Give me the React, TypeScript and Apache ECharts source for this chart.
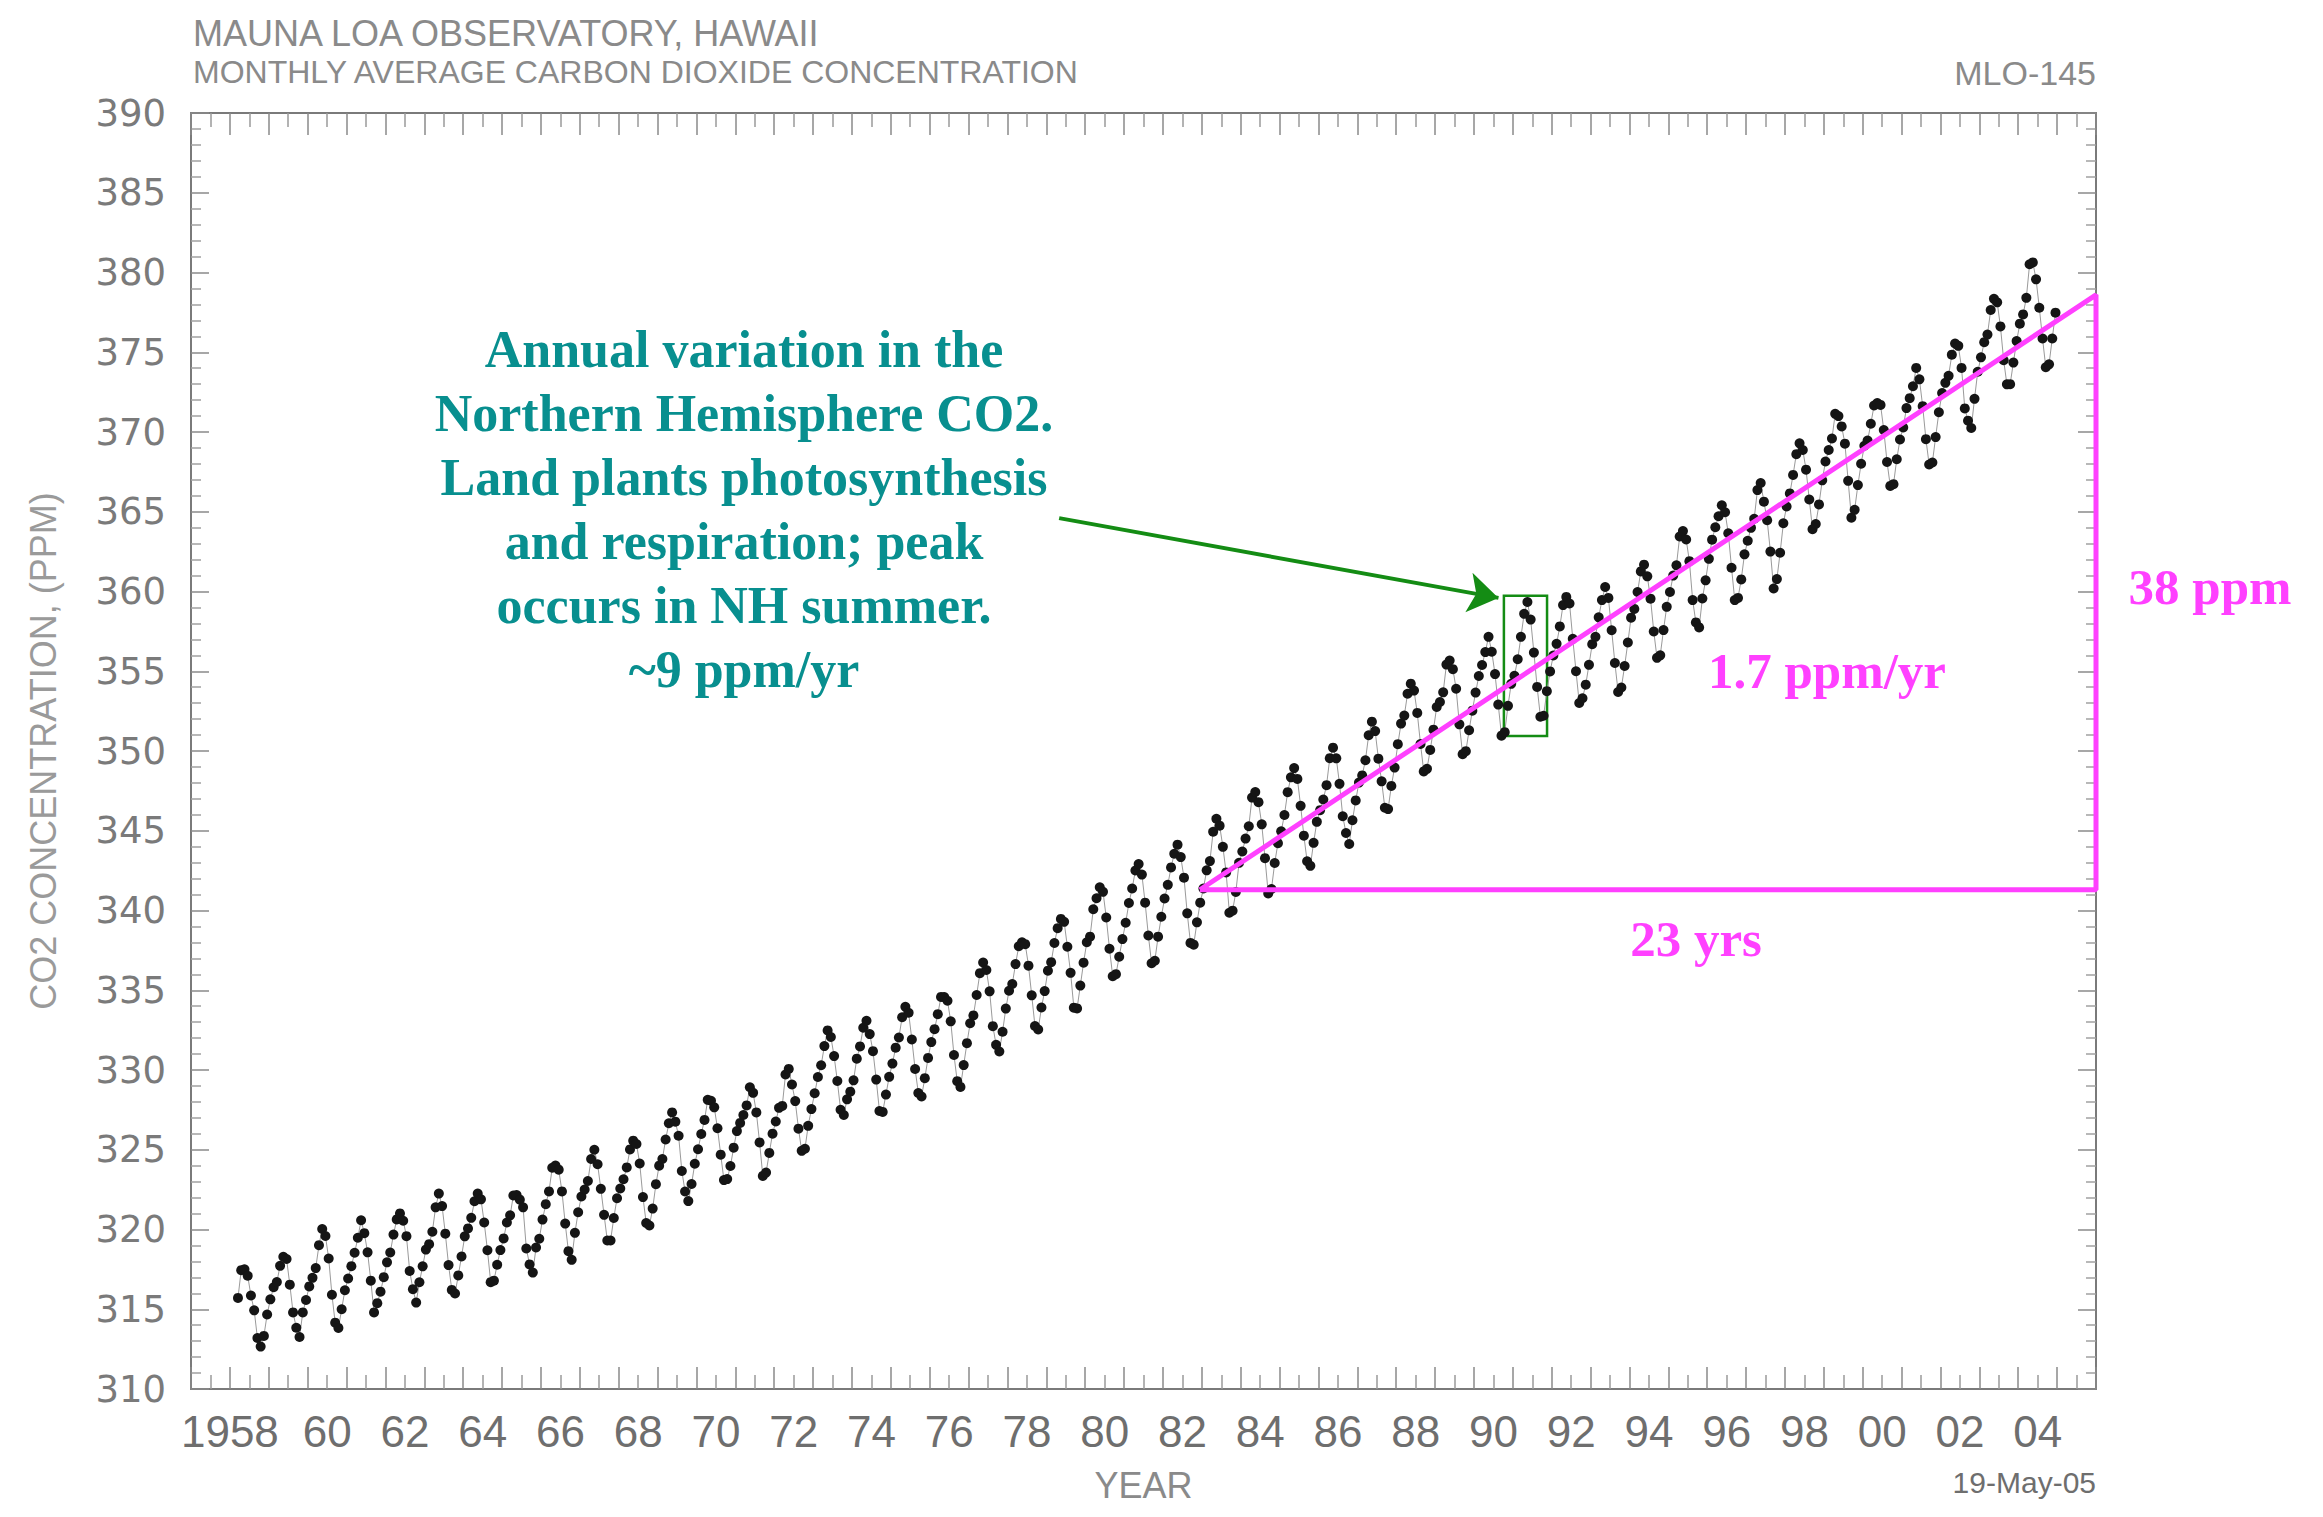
import React, { useEffect, useRef } from "react";
import * as echarts from "echarts";

// Monthly average CO2 (ppm) at Mauna Loa, starting March 1958
const startYear = 1958;
const startMonth = 3;

const co2_1950s = [
  315.71, 317.45, 317.5, 317.1, 315.86, 314.93, 313.2, 312.66, 313.33, 314.67,
  315.62, 316.38, 316.71, 317.72, 318.29, 318.15, 316.54, 314.8, 313.84, 313.26, 314.8, 315.58,
];
const co2_1960s = [
  316.43, 316.97, 317.58, 319.02, 320.03, 319.59, 318.18, 315.91, 314.16, 313.83, 315.0, 316.19,
  316.93, 317.7, 318.54, 319.48, 320.58, 319.77, 318.57, 316.79, 314.8, 315.38, 316.1, 317.01,
  317.94, 318.56, 319.68, 320.63, 321.01, 320.55, 319.58, 317.4, 316.26, 315.42, 316.69, 317.69,
  318.74, 319.08, 319.86, 321.39, 322.25, 321.47, 319.74, 317.77, 316.21, 315.99, 317.12, 318.31,
  319.57, 320.07, 320.73, 321.77, 322.25, 321.89, 320.44, 318.7, 316.7, 316.79, 317.79, 318.71,
  319.44, 320.44, 320.89, 322.13, 322.16, 321.87, 321.39, 318.81, 317.81, 317.3, 318.87, 319.42,
  320.62, 321.59, 322.39, 323.87, 324.01, 323.75, 322.39, 320.37, 318.64, 318.1, 319.79, 321.08,
  322.07, 322.5, 323.04, 324.42, 325.0, 324.09, 322.55, 320.92, 319.31, 319.31, 320.72, 321.96,
  322.57, 323.15, 323.89, 325.02, 325.57, 325.36, 324.14, 322.03, 320.41, 320.25, 321.31, 322.84,
  324.0, 324.42, 325.64, 326.66, 327.34, 326.76, 325.88, 323.67, 322.38, 321.78, 322.85, 324.12,
];
const co2_1970s = [
  325.03, 325.99, 326.87, 328.13, 328.07, 327.66, 326.35, 324.69, 323.1, 323.16, 323.98, 325.13,
  326.17, 326.68, 327.18, 327.78, 328.92, 328.57, 327.34, 325.46, 323.36, 323.57, 324.8, 326.01,
  326.77, 327.63, 327.75, 329.72, 330.07, 329.09, 328.05, 326.32, 324.93, 325.06, 326.5, 327.55,
  328.54, 329.56, 330.3, 331.5, 332.48, 332.07, 330.87, 329.31, 327.51, 327.18, 328.16, 328.64,
  329.35, 330.71, 331.48, 332.65, 333.09, 332.25, 331.18, 329.4, 327.43, 327.37, 328.46, 329.57,
  330.4, 331.4, 332.04, 333.31, 333.96, 333.59, 331.91, 330.06, 328.56, 328.34, 329.49, 330.76,
  331.75, 332.56, 333.5, 334.58, 334.57, 334.34, 333.05, 330.94, 329.3, 328.94, 330.31, 331.68,
  332.93, 333.42, 334.7, 336.07, 336.74, 336.27, 334.93, 332.75, 331.58, 331.16, 332.4, 333.85,
  334.97, 335.39, 336.64, 337.76, 338.01, 337.89, 336.54, 334.68, 332.76, 332.54, 333.92, 334.95,
  336.23, 336.76, 337.96, 338.89, 339.47, 339.29, 337.73, 336.09, 333.91, 333.86, 335.29, 336.73,
];
const co2_1980s = [
  338.01, 338.36, 340.08, 340.77, 341.46, 341.17, 339.56, 337.6, 335.88, 336.01, 337.1, 338.21,
  339.23, 340.47, 341.38, 342.51, 342.91, 342.25, 340.49, 338.43, 336.69, 336.85, 338.36, 339.61,
  340.75, 341.61, 342.7, 343.56, 344.13, 343.35, 342.06, 339.82, 337.97, 337.86, 339.26, 340.49,
  341.38, 342.52, 343.1, 344.94, 345.75, 345.32, 343.99, 342.39, 339.86, 339.99, 341.16, 342.99,
  343.7, 344.51, 345.28, 347.08, 347.43, 346.79, 345.4, 343.28, 341.07, 341.35, 342.98, 344.22,
  344.97, 345.99, 347.42, 348.35, 348.93, 348.25, 346.56, 344.69, 343.09, 342.8, 344.24, 345.56,
  346.29, 346.96, 347.86, 349.55, 350.21, 349.54, 347.94, 345.91, 344.86, 344.17, 345.66, 346.9,
  348.02, 348.47, 349.42, 350.99, 351.84, 351.25, 349.52, 348.1, 346.44, 346.36, 347.81, 348.96,
  350.43, 351.72, 352.22, 353.59, 354.22, 353.79, 352.39, 350.44, 348.72, 348.88, 350.07, 351.34,
  352.76, 353.07, 353.68, 355.42, 355.67, 355.13, 353.9, 351.67, 349.8, 349.99, 351.3, 352.53,
];
const co2_1990s = [
  353.66, 354.7, 355.39, 356.2, 357.16, 356.22, 354.82, 352.91, 350.96, 351.18, 352.83, 354.21,
  354.72, 355.75, 357.16, 358.6, 359.34, 358.24, 356.17, 354.02, 352.15, 352.21, 353.75, 354.99,
  355.99, 356.72, 357.81, 359.15, 359.66, 359.25, 357.03, 355.0, 353.01, 353.31, 354.16, 355.4,
  356.7, 357.16, 358.38, 359.46, 360.28, 359.6, 357.57, 355.52, 353.7, 353.98, 355.33, 356.8,
  358.36, 358.91, 359.97, 361.26, 361.68, 360.95, 359.55, 357.49, 355.84, 356.0, 357.58, 359.04,
  359.97, 361.0, 361.64, 363.45, 363.79, 363.26, 361.9, 359.46, 358.06, 357.75, 359.56, 360.7,
  362.05, 363.25, 364.03, 364.72, 365.41, 364.97, 363.65, 361.49, 359.46, 359.6, 360.76, 362.33,
  363.18, 363.99, 364.56, 366.36, 366.8, 365.63, 364.47, 362.5, 360.19, 360.78, 362.43, 364.28,
  365.33, 366.15, 367.31, 368.61, 369.29, 368.87, 367.64, 365.77, 363.9, 364.23, 365.46, 366.97,
  368.15, 368.87, 369.59, 371.14, 371.0, 370.35, 369.27, 366.94, 364.63, 365.12, 366.67, 368.01,
];
const co2_2000s = [
  369.14, 369.46, 370.52, 371.66, 371.82, 371.7, 370.12, 368.12, 366.62, 366.73, 368.29, 369.53,
  370.28, 371.5, 372.12, 372.87, 374.02, 373.3, 371.62, 369.55, 367.96, 368.09, 369.68, 371.24,
  372.44, 373.08, 373.52, 374.85, 375.55, 375.4, 374.02, 371.48, 370.71, 370.25, 372.08, 373.78,
  374.68, 375.63, 376.11, 377.65, 378.35, 378.13, 376.62, 374.5, 372.99, 373.0, 374.35, 375.7,
  376.79, 377.37, 378.41, 380.52, 380.63, 379.57, 377.79, 375.86, 374.06, 374.24, 375.86, 377.48,
];

// Axis ranges
const xMin = 1957;
const xMax = 2006;
const yMin = 310;
const yMax = 390;

// Annotation geometry in data units (year, ppm)
const trendTriangle = [
  [1982.95, 341.3],
  [2006, 341.3],
  [2006, 378.6],
  [1982.95, 341.3],
];
const highlightBox = [
  [1990.77, 350.94],
  [1991.88, 359.74],
];
const arrowLine = [
  [1979.33, 364.6],
  [1990.63, 359.6],
];

const noteLines = [
  "Annual variation in the",
  "Northern Hemisphere CO2.",
  "Land plants photosynthesis",
  "and respiration; peak",
  "occurs in NH summer.",
  "~9 ppm/yr",
];

const GRAY = "#6e6e6e";
const LIGHT = "#8a8a8a";
const TEAL = "#088f8f";
const MAGENTA = "#ff40ff";
const GREEN = "#148c14";
const SERIF = '"Liberation Serif", "DejaVu Serif", serif';
const SANS = '"Liberation Sans", Arial, sans-serif';

export default function App() {
  const ref = useRef<HTMLDivElement | null>(null);

  useEffect(() => {
    if (!ref.current) return;
    const chart = echarts.init(ref.current, null, { renderer: "svg" });

    const monthly = [
      ...co2_1950s,
      ...co2_1960s,
      ...co2_1970s,
      ...co2_1980s,
      ...co2_1990s,
      ...co2_2000s,
    ];
    const points = monthly.map((v, i) => {
      const m = startMonth - 1 + i;
      return [startYear + (m + 0.5) / 12, v];
    });

    const frameLine = { show: true, lineStyle: { color: "#7a7a7a", width: 2 } };

    const option: any = {
      animation: false,
      backgroundColor: "#ffffff",
      grid: { left: 191, top: 113, width: 1905, height: 1276, containLabel: false },
      xAxis: [
        {
          type: "value",
          min: xMin,
          max: xMax,
          interval: 1,
          position: "bottom",
          name: "YEAR",
          nameLocation: "middle",
          nameGap: 78,
          nameTextStyle: { fontFamily: SANS, fontSize: 36, color: LIGHT },
          axisLine: frameLine,
          axisTick: { show: true, inside: true, length: 22, lineStyle: { color: "#8a8a8a", width: 1.5 } },
          minorTick: { show: true, splitNumber: 2, length: 14, lineStyle: { color: "#9a9a9a", width: 1.5 } },
          splitLine: { show: false },
          axisLabel: {
            show: true,
            interval: 0,
            margin: 20,
            showMinLabel: true,
            showMaxLabel: true,
            formatter: (v: number) => {
              const y = Math.round(v);
              if (y % 2 !== 0 || y < 1958 || y > 2004) return "";
              if (y === 1958) return "{b|1958}";
              return "{a|" + String(y % 100).padStart(2, "0") + "}";
            },
            rich: {
              a: { fontFamily: SANS, fontSize: 44, color: GRAY, padding: [0, 0, 0, 39] },
              b: { fontFamily: SANS, fontSize: 44, color: GRAY },
            },
          },
        },
        {
          type: "value",
          min: xMin,
          max: xMax,
          interval: 1,
          position: "top",
          axisLine: frameLine,
          axisTick: { show: true, inside: true, length: 22, lineStyle: { color: "#8a8a8a", width: 1.5 } },
          minorTick: { show: true, splitNumber: 2, length: 14, lineStyle: { color: "#9a9a9a", width: 1.5 } },
          splitLine: { show: false },
          axisLabel: { show: false },
        },
      ],
      yAxis: [
        {
          type: "value",
          min: yMin,
          max: yMax,
          interval: 5,
          position: "left",
          name: "CO2 CONCENTRATION, (PPM)",
          nameLocation: "middle",
          nameRotate: 90,
          nameGap: 130,
          nameTextStyle: { fontFamily: SANS, fontSize: 36, color: "#9a9a9a" },
          axisLine: frameLine,
          axisTick: { show: true, inside: true, length: 18, lineStyle: { color: "#8a8a8a", width: 1.5 } },
          minorTick: { show: true, splitNumber: 5, length: 10, lineStyle: { color: "#a0a0a0", width: 1.5 } },
          splitLine: { show: false },
          axisLabel: {
            show: true,
            margin: 25,
            fontFamily: '"DejaVu Sans", sans-serif',
            fontSize: 37,
            color: "#7a7a7a",
          },
        },
        {
          type: "value",
          min: yMin,
          max: yMax,
          interval: 5,
          position: "right",
          axisLine: frameLine,
          axisTick: { show: true, inside: true, length: 18, lineStyle: { color: "#8a8a8a", width: 1.5 } },
          minorTick: { show: true, splitNumber: 5, length: 10, lineStyle: { color: "#a0a0a0", width: 1.5 } },
          splitLine: { show: false },
          axisLabel: { show: false },
        },
      ],
      series: [
        {
          name: "CO2",
          type: "line",
          xAxisIndex: 0,
          yAxisIndex: 0,
          data: points,
          showSymbol: true,
          symbol: "circle",
          symbolSize: 10,
          itemStyle: { color: "#151515" },
          lineStyle: { color: "#9a9a9a", width: 1 },
          z: 3,
          markArea: {
            silent: true,
            itemStyle: { color: "rgba(0,0,0,0)", borderColor: GREEN, borderWidth: 2.5 },
            label: { show: false },
            data: [[{ coord: highlightBox[0] }, { coord: highlightBox[1] }]],
          },
          markLine: {
            silent: true,
            symbol: ["none", "arrow"],
            symbolSize: 30,
            label: { show: false },
            lineStyle: { color: GREEN, width: 4, type: "solid" },
            data: [[{ coord: arrowLine[0] }, { coord: arrowLine[1] }]],
          },
        },
        {
          name: "trend",
          type: "line",
          xAxisIndex: 0,
          yAxisIndex: 0,
          data: trendTriangle,
          showSymbol: false,
          symbol: "none",
          lineStyle: { color: MAGENTA, width: 5 },
          z: 5,
        },
      ],
      graphic: [
        {
          type: "text",
          left: 193,
          top: 15,
          style: { text: "MAUNA LOA OBSERVATORY, HAWAII", font: `36px ${SANS}`, fill: LIGHT },
        },
        {
          type: "text",
          left: 193,
          top: 56,
          style: { text: "MONTHLY AVERAGE CARBON DIOXIDE CONCENTRATION", font: `32px ${SANS}`, fill: LIGHT },
        },
        {
          type: "text",
          right: 2323 - 2096,
          top: 56,
          style: { text: "MLO-145", font: `34px ${SANS}`, fill: LIGHT },
        },
        {
          type: "text",
          right: 2323 - 2096,
          top: 1467,
          style: { text: "19-May-05", font: `30px ${SANS}`, fill: GRAY },
        },
        {
          type: "text",
          x: 744,
          y: 317,
          style: {
            text: noteLines.join("\n"),
            font: `bold 52px ${SERIF}`,
            fill: TEAL,
            textAlign: "center",
            textVerticalAlign: "top",
            lineHeight: 64,
          },
          z: 10,
        },
        {
          type: "text",
          x: 1827,
          y: 671,
          style: {
            text: "1.7 ppm/yr",
            font: `bold 51px ${SERIF}`,
            fill: MAGENTA,
            textAlign: "center",
            textVerticalAlign: "middle",
          },
          z: 10,
        },
        {
          type: "text",
          x: 2210,
          y: 587,
          style: {
            text: "38 ppm",
            font: `bold 51px ${SERIF}`,
            fill: MAGENTA,
            textAlign: "center",
            textVerticalAlign: "middle",
          },
          z: 10,
        },
        {
          type: "text",
          x: 1696,
          y: 939,
          style: {
            text: "23 yrs",
            font: `bold 51px ${SERIF}`,
            fill: MAGENTA,
            textAlign: "center",
            textVerticalAlign: "middle",
          },
          z: 10,
        },
      ],
    };

    chart.setOption(option);
    return () => {
      chart.dispose();
    };
  }, []);

  return (
    <div
      ref={ref}
      style={{ position: "absolute", left: 0, top: 0, width: 2323, height: 1517, background: "#fff" }}
    />
  );
}
